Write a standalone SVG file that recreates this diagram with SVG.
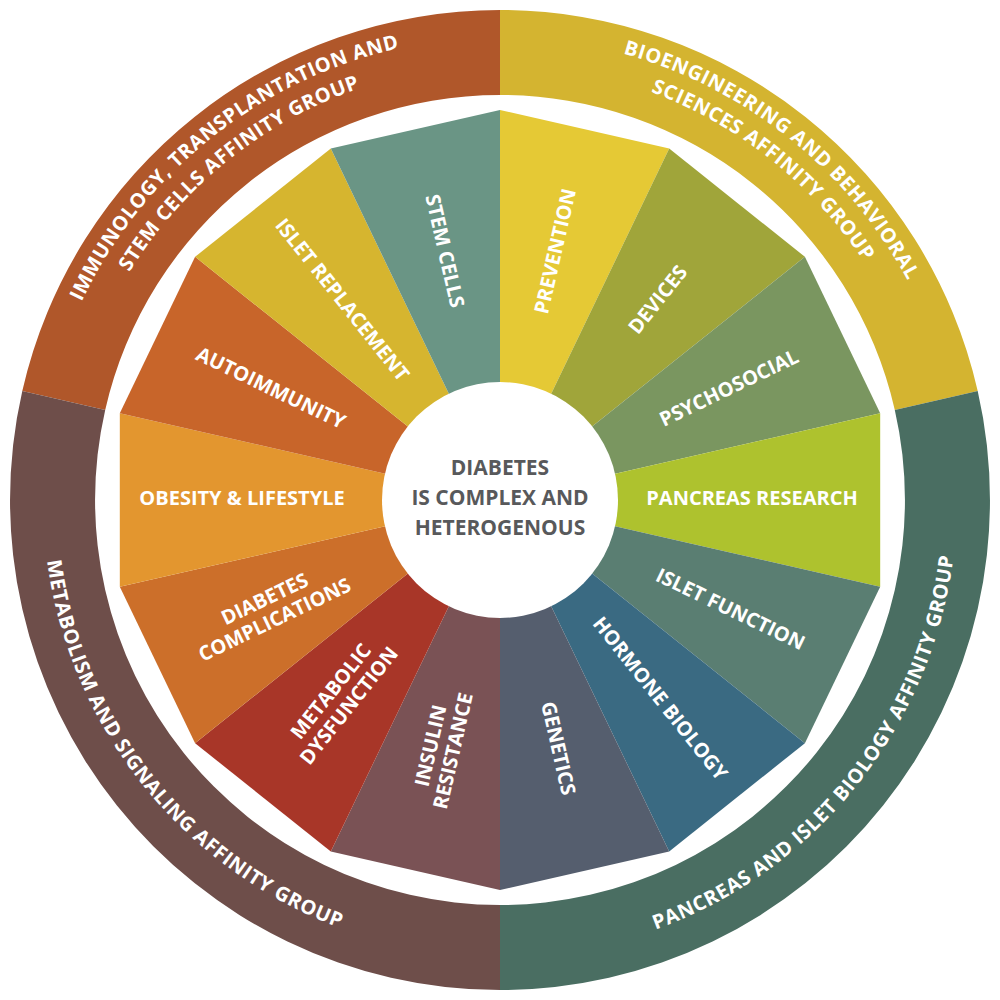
<svg xmlns="http://www.w3.org/2000/svg" width="1000" height="1000" viewBox="0 0 1000 1000">
<style>
.w{font-family:"Open Sans","Liberation Sans",sans-serif;font-weight:700;font-size:20px;fill:#fff;text-anchor:middle;dominant-baseline:middle}
.r{font-family:"Open Sans","Liberation Sans",sans-serif;font-weight:700;font-size:20px;letter-spacing:0.6px;fill:#fff;text-anchor:middle}
.c{font-family:"Open Sans","Liberation Sans",sans-serif;font-weight:700;font-size:21px;fill:#58595b;text-anchor:middle}
</style>
<defs>
<path id="b1" d="M48.6,397 A463 463 0 0 1 500,37"/>
<path id="b2" d="M75.9,403.2 A435 435 0 0 1 500,65"/>
<path id="g1" d="M500,37 A463 463 0 0 1 951.4,397"/>
<path id="g2" d="M500,65 A435 435 0 0 1 924.1,403.2"/>
<path id="gr" d="M500,957 A457 457 0 0 0 945.5,398.3"/>
<path id="mr" d="M54.5,398.3 A457 457 0 0 0 500,957"/>
</defs>
<rect width="1000" height="1000" fill="#fff"/>
<g id="ring">
<g id="ring-immunology"><path d="M22.3,391 A490 490 0 0 1 500,10 L500,95 A405 405 0 0 0 105.2,409.9 Z" fill="#b0572a"/>
<text class="r"><textPath href="#b1" startOffset="50%">IMMUNOLOGY, TRANSPLANTATION AND</textPath></text>
<text class="r"><textPath href="#b2" startOffset="50%">STEM CELLS AFFINITY GROUP</textPath></text></g>
<g id="ring-bioeng"><path d="M500,10 A490 490 0 0 1 977.7,391 L894.8,409.9 A405 405 0 0 0 500,95 Z" fill="#d4b430"/>
<text class="r"><textPath href="#g1" startOffset="50%">BIOENGINEERING AND BEHAVIORAL</textPath></text>
<text class="r"><textPath href="#g2" startOffset="50%">SCIENCES AFFINITY GROUP</textPath></text></g>
<g id="ring-pancreas"><path d="M977.7,391 A490 490 0 0 1 500,990 L500,905 A405 405 0 0 0 894.8,409.9 Z" fill="#4a6e62"/>
<text class="r"><textPath href="#gr" startOffset="50%">PANCREAS AND ISLET BIOLOGY AFFINITY GROUP</textPath></text></g>
<g id="ring-metabolism"><path d="M500,990 A490 490 0 0 1 22.3,391 L105.2,409.9 A405 405 0 0 0 500,905 Z" fill="#6e4e4a"/>
<text class="r"><textPath href="#mr" startOffset="50%">METABOLISM AND SIGNALING AFFINITY GROUP</textPath></text></g>
</g>
<g id="wedges">
<g id="w-prevention"><path d="M500,500 L500,110 L669.2,148.6 Z" fill="#e5c935"/><text class="w" transform="translate(500 500) rotate(-77.14) translate(255 0)">PREVENTION</text></g>
<g id="w-devices"><path d="M500,500 L669.2,148.6 L804.9,256.8 Z" fill="#a0a53a"/><text class="w" transform="translate(500 500) rotate(-51.43) translate(255 0)">DEVICES</text></g>
<g id="w-psycho"><path d="M500,500 L804.9,256.8 L880.2,413.2 Z" fill="#7a9660"/><text class="w" transform="translate(500 500) rotate(-25.71) translate(255 0)">PSYCHOSOCIAL</text></g>
<g id="w-pancreas"><path d="M500,500 L880.2,413.2 L880.2,586.8 Z" fill="#aec22e"/><text class="w" transform="translate(500 500) rotate(0) translate(252 0)">PANCREAS RESEARCH</text></g>
<g id="w-islet"><path d="M500,500 L880.2,586.8 L804.9,743.2 Z" fill="#5a7e72"/><text class="w" transform="translate(500 500) rotate(25.71) translate(255 0)">ISLET FUNCTION</text></g>
<g id="w-hormone"><path d="M500,500 L804.9,743.2 L669.2,851.4 Z" fill="#3a6a82"/><text class="w" transform="translate(500 500) rotate(51.43) translate(255 0)">HORMONE BIOLOGY</text></g>
<g id="w-genetics"><path d="M500,500 L669.2,851.4 L500,890 Z" fill="#555e6e"/><text class="w" transform="translate(500 500) rotate(77.14) translate(255 0)">GENETICS</text></g>
<g id="w-insulin"><path d="M500,500 L500,890 L330.8,851.4 Z" fill="#7a5255"/><text class="w" transform="translate(500 500) rotate(102.86) translate(255 0) rotate(180)"><tspan x="0" dy="-11">INSULIN</tspan><tspan x="0" dy="23">RESISTANCE</tspan></text></g>
<g id="w-metabolic"><path d="M500,500 L330.8,851.4 L195.1,743.2 Z" fill="#a83628"/><text class="w" transform="translate(500 500) rotate(128.57) translate(255 0) rotate(180)"><tspan x="0" dy="-11">METABOLIC</tspan><tspan x="0" dy="23">DYSFUNCTION</tspan></text></g>
<g id="w-complications"><path d="M500,500 L195.1,743.2 L119.8,586.8 Z" fill="#cc6f2a"/><text class="w" transform="translate(500 500) rotate(154.29) translate(255 0) rotate(180)"><tspan x="0" dy="-11">DIABETES</tspan><tspan x="0" dy="23">COMPLICATIONS</tspan></text></g>
<g id="w-obesity"><path d="M500,500 L119.8,586.8 L119.8,413.2 Z" fill="#e3962f"/><text class="w" transform="translate(500 500) rotate(180) translate(258 0) rotate(180)">OBESITY &amp; LIFESTYLE</text></g>
<g id="w-autoimmunity"><path d="M500,500 L119.8,413.2 L195.1,256.8 Z" fill="#c8652a"/><text class="w" transform="translate(500 500) rotate(205.71) translate(255 0) rotate(180)">AUTOIMMUNITY</text></g>
<g id="w-isletrep"><path d="M500,500 L195.1,256.8 L330.8,148.6 Z" fill="#d6b52f"/><text class="w" transform="translate(500 500) rotate(231.43) translate(255 0) rotate(180)">ISLET REPLACEMENT</text></g>
<g id="w-stem"><path d="M500,500 L330.8,148.6 L500,110 Z" fill="#6a9585"/><text class="w" transform="translate(500 500) rotate(257.14) translate(255 0) rotate(180)">STEM CELLS</text></g>
</g>
<g id="center"><circle cx="500" cy="500" r="118" fill="#fff"/>
<text class="c" x="500" y="475">DIABETES</text>
<text class="c" x="500" y="505">IS COMPLEX AND</text>
<text class="c" x="500" y="535">HETEROGENOUS</text></g>
</svg>
